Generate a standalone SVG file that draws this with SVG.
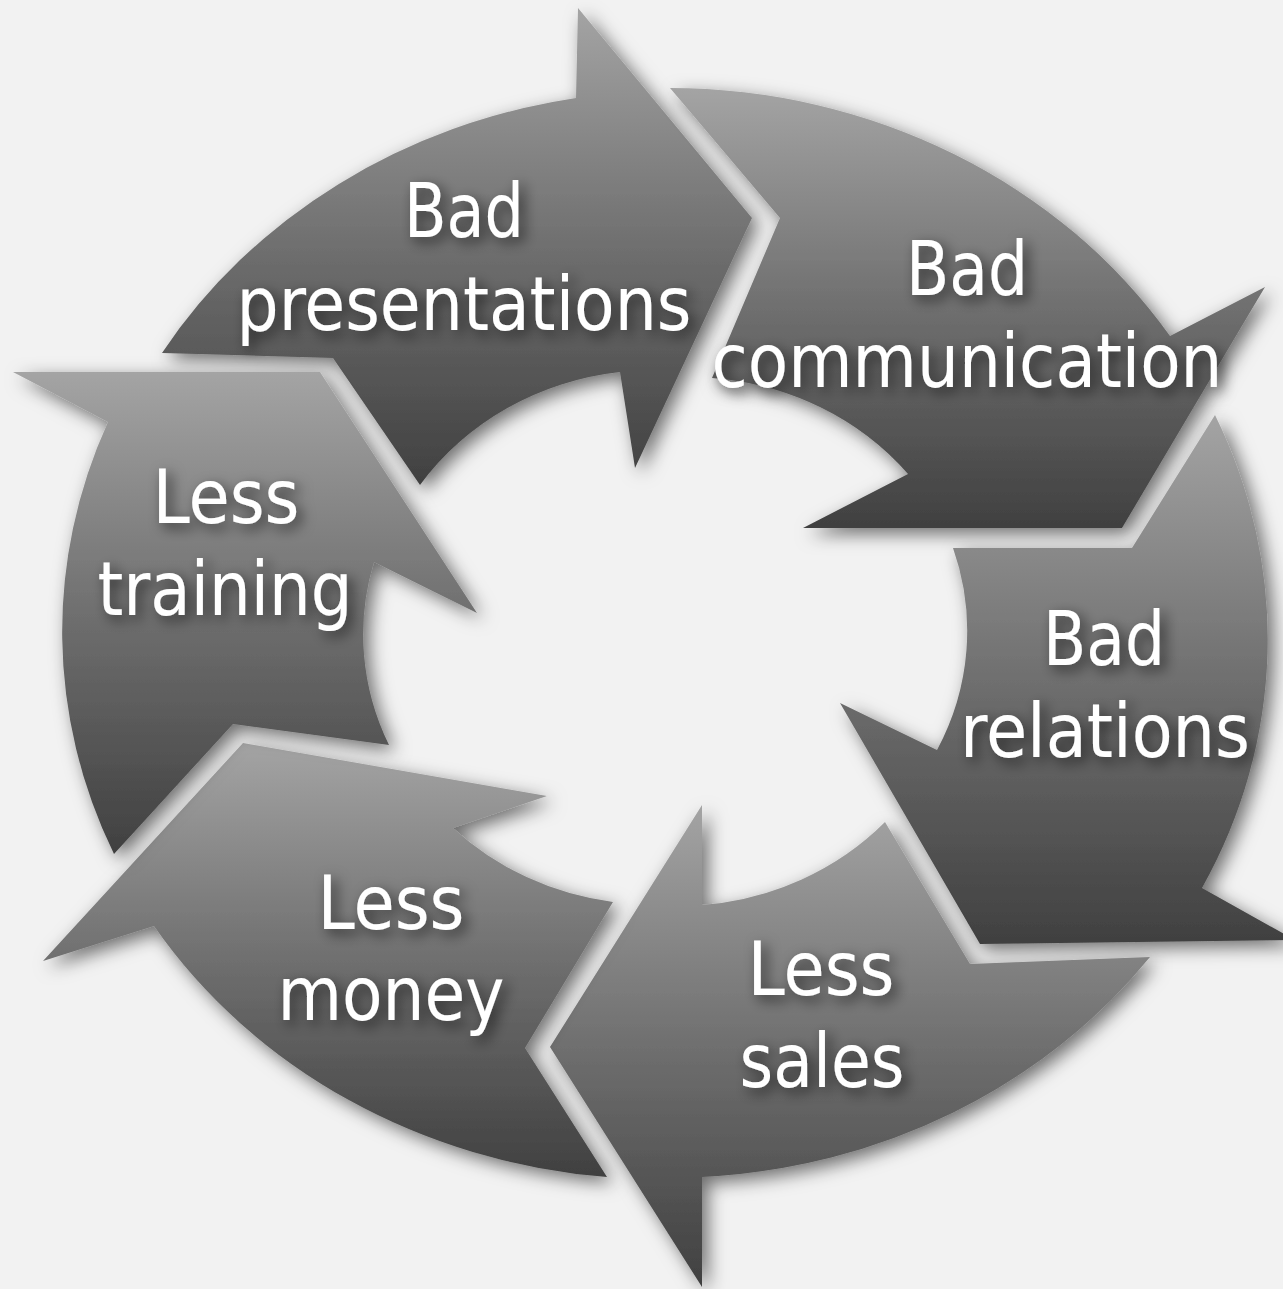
<svg xmlns="http://www.w3.org/2000/svg" width="1283" height="1289" viewBox="0 0 1283 1289">
  <style>
    .arrow { fill: url(#grey); filter: url(#shadow); }
    .label { font-family: "DejaVu Sans Condensed", "DejaVu Sans", sans-serif; font-stretch: condensed; font-size: 74px; fill: #ffffff; text-anchor: middle; filter: url(#textShadow); }
  </style>
  <defs>
    <linearGradient id="grey" x1="0" y1="0" x2="0" y2="1">
      <stop offset="0" stop-color="#a4a4a4"/>
      <stop offset="0.5" stop-color="#6f6f6f"/>
      <stop offset="1" stop-color="#404040"/>
    </linearGradient>
    <filter id="shadow" x="-20%" y="-20%" width="140%" height="140%">
      <feGaussianBlur in="SourceAlpha" stdDeviation="9"/>
      <feOffset dx="6" dy="6" result="b"/>
      <feFlood flood-color="#000000" flood-opacity="0.55"/>
      <feComposite in2="b" operator="in"/>
      <feMerge>
        <feMergeNode/>
        <feMergeNode in="SourceGraphic"/>
      </feMerge>
    </filter>
    <filter id="textShadow" x="-20%" y="-30%" width="140%" height="160%">
      <feGaussianBlur in="SourceAlpha" stdDeviation="7"/>
      <feOffset dx="5" dy="5" result="b"/>
      <feFlood flood-color="#000000" flood-opacity="0.65"/>
      <feComposite in2="b" operator="in"/>
      <feMerge>
        <feMergeNode/>
        <feMergeNode in="SourceGraphic"/>
      </feMerge>
    </filter>
  </defs>
  <rect x="0" y="0" width="1283" height="1289" fill="#f2f2f2"/>

  <g id="node-bad-presentations">
    <path class="arrow" d="M162,353 A598,546 0 0 1 576,98 L578,8 L752,218 L635,468 L620,372 A283,265 0 0 0 420,485 L333,358 Z"/>
    <text class="label" x="464" y="237" textLength="120" lengthAdjust="spacingAndGlyphs">Bad</text>
    <text class="label" x="464" y="330" textLength="455" lengthAdjust="spacingAndGlyphs">presentations</text>
  </g>

  <g id="node-bad-communication">
    <path class="arrow" d="M670,88 A598,546 0 0 1 1170,336 L1265,287 L1122,528 L803,528 L908,474 A283,265 0 0 0 712,378 L780,218 Z"/>
    <text class="label" x="967" y="295" textLength="122" lengthAdjust="spacingAndGlyphs">Bad</text>
    <text class="label" x="967" y="387" textLength="511" lengthAdjust="spacingAndGlyphs">communication</text>
  </g>

  <g id="node-bad-relations">
    <path class="arrow" d="M1215,415 A598,546 0 0 1 1202,888 L1295,940 L980,944 L840,703 L937,750 A283,265 0 0 0 953,548 L1132,548 Z"/>
    <text class="label" x="1104" y="665" textLength="122" lengthAdjust="spacingAndGlyphs">Bad</text>
    <text class="label" x="1105" y="757" textLength="290" lengthAdjust="spacingAndGlyphs">relations</text>
  </g>

  <g id="node-less-sales">
    <path class="arrow" d="M1150,957 A598,546 0 0 1 702,1177 L702,1287 L550,1047 L702,805 L702,905 A283,265 0 0 0 885,822 L970,964 Z"/>
    <text class="label" x="821" y="995" textLength="147" lengthAdjust="spacingAndGlyphs">Less</text>
    <text class="label" x="822" y="1087" textLength="165" lengthAdjust="spacingAndGlyphs">sales</text>
  </g>

  <g id="node-less-money">
    <path class="arrow" d="M607,1177 A598,546 0 0 1 154,926 L43,961 L243,743 L547,796 L453,828 A283,265 0 0 0 613,902 L525,1048 Z"/>
    <text class="label" x="391" y="929" textLength="147" lengthAdjust="spacingAndGlyphs">Less</text>
    <text class="label" x="391" y="1020" textLength="227" lengthAdjust="spacingAndGlyphs">money</text>
  </g>

  <g id="node-less-training">
    <path class="arrow" d="M114,854 A598,546 0 0 1 108,422 L13,372 L320,372 L477,613 L374,562 A283,265 0 0 0 389,745 L233,724 Z"/>
    <text class="label" x="226" y="523" textLength="147" lengthAdjust="spacingAndGlyphs">Less</text>
    <text class="label" x="225" y="615" textLength="255" lengthAdjust="spacingAndGlyphs">training</text>
  </g>

  <g id="connectors"></g>
</svg>
